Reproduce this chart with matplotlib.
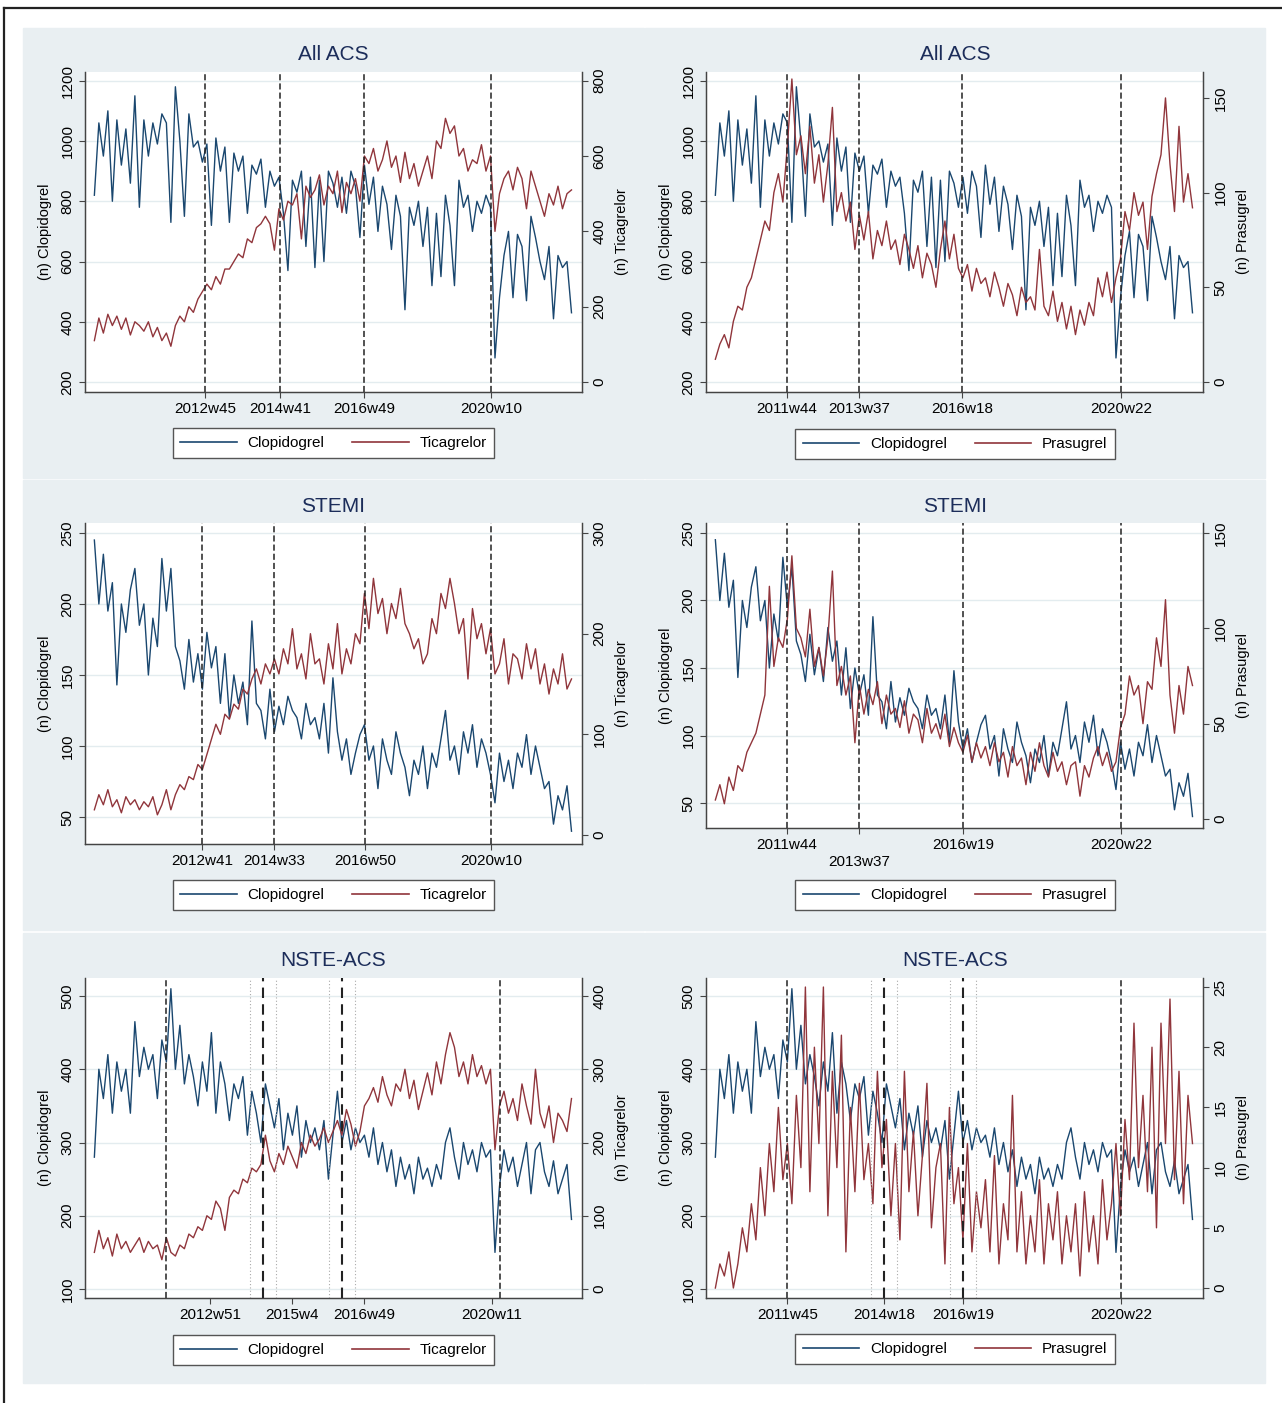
import numpy as np
import matplotlib
matplotlib.use('Agg')
import matplotlib.pyplot as plt
from matplotlib.patches import Rectangle
from matplotlib.lines import Line2D

plt.rcParams['font.family'] = ['Liberation Sans', 'DejaVu Sans']

# weekly counts, sampled every 6 weeks from 2010w1
weeks = np.arange(107) * 6

acs_clop = [820, 1060, 950, 1100, 800, 1070, 920, 1040, 860, 1150,
            780, 1070, 950, 1060, 990, 1090, 1060, 730, 1180, 1000,
            750, 1090, 980, 1000, 930, 990, 720, 1010, 900, 980,
            730, 960, 900, 950, 760, 920, 890, 940, 780, 900,
            850, 880, 760, 570, 870, 830, 900, 650, 880, 580,
            870, 600, 900, 860, 780, 880, 760, 900, 850, 680,
            920, 790, 880, 700, 850, 790, 640, 820, 750, 440,
            780, 720, 800, 650, 780, 520, 760, 550, 820, 720,
            520, 870, 780, 820, 700, 800, 760, 820, 780, 280,
            480, 620, 700, 480, 690, 650, 470, 750, 680, 600,
            540, 650, 410, 620, 580, 600, 430]
acs_tica = [110, 170, 130, 180, 150, 175, 140, 170, 125, 160,
            150, 135, 160, 120, 145, 110, 130, 95, 150, 175,
            160, 200, 185, 220, 240, 260, 245, 280, 260, 300,
            300, 320, 340, 330, 380, 370, 410, 420, 440, 420,
            350, 460, 430, 480, 470, 500, 380, 520, 490, 510,
            550, 470, 520, 500, 560, 450, 530, 500, 540, 480,
            600, 580, 620, 560, 590, 640, 570, 600, 530, 610,
            540, 580, 520, 560, 600, 540, 640, 620, 700, 660,
            680, 600, 620, 560, 590, 580, 630, 560, 600, 400,
            500, 540, 560, 510, 570, 540, 460, 560, 520, 480,
            440, 500, 470, 520, 460, 500, 510]
acs_pras = [12, 20, 25, 18, 32, 40, 38, 50, 55, 65,
            75, 85, 80, 100, 110, 95, 125, 160, 120, 130,
            110, 135, 105, 120, 95, 115, 145, 90, 100, 85,
            95, 70, 88, 75, 90, 65, 80, 72, 85, 70,
            75, 62, 78, 70, 60, 72, 55, 68, 62, 50,
            70, 85, 65, 78, 60, 55, 62, 48, 60, 52,
            55, 45, 58, 50, 40, 52, 46, 35, 50, 42,
            45, 38, 70, 40, 35, 48, 32, 42, 28, 40,
            25, 38, 30, 42, 35, 55, 45, 58, 42, 55,
            65, 90, 80, 100, 88, 95, 70, 98, 110, 120,
            150, 115, 90, 135, 95, 110, 92]

stemi_clop = [245, 200, 235, 195, 215, 143, 200, 180, 210, 225,
              185, 200, 150, 190, 170, 232, 195, 225, 170, 160,
              140, 175, 145, 165, 140, 180, 155, 170, 130, 165,
              120, 150, 130, 145, 115, 188, 130, 125, 105, 140,
              110, 128, 115, 135, 125, 120, 105, 130, 115, 120,
              105, 130, 95, 148, 110, 90, 105, 80, 95, 108,
              115, 90, 100, 70, 105, 90, 80, 110, 95, 85,
              65, 90, 80, 100, 70, 95, 85, 105, 125, 90,
              100, 80, 110, 95, 115, 85, 105, 95, 80, 60,
              95, 75, 90, 70, 95, 85, 108, 80, 100, 85,
              70, 75, 45, 65, 55, 72, 40]
stemi_tica = [25, 40, 30, 45, 28, 35, 22, 38, 30, 35,
              25, 33, 28, 38, 20, 30, 45, 25, 40, 50,
              45, 58, 55, 70, 65, 80, 95, 110, 100, 120,
              115, 130, 125, 145, 140, 155, 165, 150, 170, 160,
              175, 160, 185, 170, 205, 165, 180, 155, 200, 170,
              175, 150, 190, 165, 210, 160, 185, 170, 200, 190,
              240, 205, 255, 220, 235, 200, 230, 215, 245, 210,
              200, 185, 195, 170, 180, 215, 200, 240, 225, 255,
              230, 200, 215, 155, 225, 195, 210, 180, 205, 160,
              170, 195, 150, 180, 175, 155, 190, 165, 185, 150,
              170, 140, 165, 150, 180, 145, 155]
stemi_pras = [10, 18, 8, 22, 15, 28, 25, 35, 40, 45,
              55, 65, 122, 80, 95, 90, 105, 138, 100, 95,
              85, 110, 80, 90, 75, 95, 130, 70, 80, 65,
              75, 40, 70, 55, 68, 60, 72, 50, 65, 55,
              58, 48, 62, 45, 55, 52, 40, 58, 45, 50,
              42, 55, 38, 48, 40, 35, 44, 30, 40, 32,
              38, 28, 40, 30, 35, 22, 38, 28, 32, 18,
              35, 25, 40, 28, 22, 35, 25, 30, 18, 28,
              30, 12, 28, 22, 32, 38, 28, 35, 25, 30,
              48, 55, 75, 65, 70, 50, 72, 68, 95, 80,
              115, 65, 45, 70, 55, 80, 70]

nste_clop = [280, 400, 360, 420, 340, 410, 370, 400, 340, 465,
             390, 430, 400, 420, 360, 440, 410, 510, 400, 460,
             380, 420, 390, 350, 410, 370, 450, 340, 410, 380,
             330, 380, 360, 390, 310, 370, 340, 300, 380, 350,
             320, 360, 290, 340, 310, 350, 280, 330, 300, 320,
             290, 330, 250, 310, 370, 300, 330, 290, 320, 300,
             310, 280, 320, 270, 300, 260, 290, 240, 280, 250,
             270, 230, 280, 250, 265, 240, 270, 250, 300, 320,
             280, 250, 300, 270, 290, 260, 300, 280, 290, 150,
             240, 290, 260, 280, 240, 270, 300, 230, 290, 300,
             260, 240, 275, 230, 250, 270, 195]
nste_tica = [50, 80, 55, 70, 45, 75, 55, 65, 50, 60,
             70, 50, 65, 55, 60, 40, 70, 50, 45, 60,
             55, 75, 70, 85, 80, 100, 95, 120, 110, 80,
             125, 135, 130, 150, 145, 165, 160, 170, 210, 175,
             160, 185, 170, 195, 180, 165, 200, 185, 210, 195,
             205, 220, 200, 215, 230, 210, 245, 225, 195, 215,
             250, 260, 275, 255, 290, 265, 250, 280, 270, 300,
             260, 285, 245, 270, 295, 265, 310, 280, 320, 350,
             330, 290, 310, 280, 320, 290, 305, 280, 300, 190,
             250, 270, 240, 260, 230, 280, 250, 225, 300, 240,
             220, 250, 200, 240, 230, 215, 260]
nste_pras = [0, 2, 1, 3, 0, 2, 5, 3, 7, 4,
             10, 6, 12, 8, 15, 9, 12, 7, 16, 10,
             25, 8, 20, 12, 25, 6, 18, 10, 21, 3,
             15, 8, 17, 9, 12, 7, 18, 10, 14, 6,
             12, 4, 18, 8, 13, 6, 11, 17, 5, 10,
             12, 2, 15, 7, 10, 4, 12, 3, 8, 5,
             9, 3, 11, 2, 7, 4, 16, 3, 8, 2,
             6, 3, 9, 2, 7, 4, 8, 2, 6, 3,
             7, 1, 8, 3, 6, 2, 9, 4, 7, 12,
             6, 14, 9, 22, 10, 16, 8, 20, 5, 22,
             12, 24, 9, 18, 7, 16, 12]

titles = ['All ACS', 'All ACS', 'STEMI', 'STEMI', 'NSTE-ACS', 'NSTE-ACS']
clop_series = [acs_clop, acs_clop, stemi_clop, stemi_clop, nste_clop, nste_clop]
other_series = [acs_tica, acs_pras, stemi_tica, stemi_pras, nste_tica, nste_pras]
other_names = ['Ticagrelor', 'Prasugrel'] * 3
tick_weeks = [['2012w45', '2014w41', '2016w49', '2020w10'],
              ['2011w44', '2013w37', '2016w18', '2020w22'],
              ['2012w41', '2014w33', '2016w50', '2020w10'],
              ['2011w44', '2013w37', '2016w19', '2020w22'],
              ['2012w51', '2015w4', '2016w49', '2020w11'],
              ['2011w45', '2014w18', '2016w19', '2020w22']]
break_weeks = [tick_weeks[0], tick_weeks[1], tick_weeks[2], tick_weeks[3],
               ['2011w45', '2014w18', '2016w19', '2020w22'],
               ['2011w45', '2014w18', '2016w19', '2020w22']]
dotted_weeks = ['2014w1', '2014w35', '2016w2', '2016w36']
left_ticks = [np.arange(200, 1201, 200)] * 2 + [np.arange(50, 251, 50)] * 2 + [np.arange(100, 501, 100)] * 2
right_ticks = [np.arange(0, 801, 200), np.arange(0, 151, 50), np.arange(0, 301, 100),
               np.arange(0, 151, 50), np.arange(0, 401, 100), np.arange(0, 26, 5)]
left_lims = [(167, 1229), (167, 1229), (31, 257), (31.5, 257.4), (87.7, 524.6), (87.7, 524.6)]
right_lims = [(-26.4, 823), (-5.3, 163.7), (-9, 310), (-4.7, 155.2), (-12.3, 424.6), (-0.83, 25.75)]

W, H = 1282, 1403
fig = plt.figure(figsize=(W / 100, H / 100), dpi=100)

NAVY = '#1a476f'
MAROON = '#90353b'
BG = '#e9eff2'


def wk(s):
    y, w = s.split('w')
    return int(y) + (int(w) - 1) / 52


t = 2010 + weeks / 52

# panel boxes (px): left, top, right, bottom
panels = [(23, 28, 644, 478), (645, 28, 1265, 478),
          (23, 480, 644, 930), (645, 480, 1265, 930),
          (23, 933, 644, 1383), (645, 933, 1265, 1383)]
axes_px = [(85, 72, 582, 392), (706, 72, 1203, 392),
           (85, 523, 582, 844), (706, 523, 1203, 828),
           (85, 978, 582, 1298), (706, 978, 1203, 1298)]

fig.add_artist(Line2D([4 / W, 4 / W], [0, 1 - 8 / H], color='#222', lw=1.6))
fig.add_artist(Line2D([4 / W, 1], [1 - 8 / H, 1 - 8 / H], color='#222', lw=1.6))

for i in range(6):
    pl, pt, pr, pb = panels[i]
    fig.patches.append(Rectangle((pl / W, 1 - pb / H), (pr - pl) / W, (pb - pt) / H,
                                 transform=fig.transFigure, color=BG, zorder=-10))
    l, tp, r, b = axes_px[i]
    ax = fig.add_axes([l / W, 1 - b / H, (r - l) / W, (b - tp) / H])
    ax.set_zorder(1)
    ax2 = ax.twinx()
    ax2.set_zorder(2)
    ax2.patch.set_visible(False)

    ax.plot(t, clop_series[i], color=NAVY, lw=1.0)
    ax2.plot(t, other_series[i], color=MAROON, lw=1.0)

    ax.set_xlim(2009.76, 2022.5)
    ax.set_ylim(*left_lims[i])
    ax2.set_ylim(*right_lims[i])
    ax.set_yticks(left_ticks[i])
    ax2.set_yticks(right_ticks[i])
    ax.yaxis.grid(True, color='#e3ecef', lw=1.0)
    ax.set_axisbelow(True)

    labels = list(tick_weeks[i])
    if i == 3:
        labels[1] = '\n' + labels[1]
    ax.set_xticks([wk(s) for s in tick_weeks[i]])
    ax.set_xticklabels(labels, fontsize=11)

    for s in break_weeks[i]:
        if i >= 4 and s in ('2014w18', '2016w19'):
            ax2.axvline(wk(s), color='#222', lw=1.5, ls=(0, (5, 3)))
        else:
            ax2.axvline(wk(s), color='#222', lw=1.1, ls=(0, (4, 2)))
    if i >= 4:
        for s in dotted_weeks:
            ax2.axvline(wk(s), color='#aaa', lw=0.8, ls=(0, (1, 2)))

    for a in (ax, ax2):
        a.spines['top'].set_visible(False)
        for sp in a.spines.values():
            sp.set_color('#444')
            sp.set_linewidth(0.9)
        a.tick_params(direction='out', length=4, width=0.8, color='#444', labelsize=11)
    for lab in ax.get_yticklabels() + ax2.get_yticklabels():
        lab.set_rotation(90)
        lab.set_va('center')

    ax.set_ylabel('(n) Clopidogrel', fontsize=10.5, labelpad=6)
    ax2.set_ylabel('(n) ' + other_names[i], fontsize=10.5, labelpad=6)

    cx = (pl + pr) / 2
    fig.text(cx / W, 1 - (pt + 27) / H, titles[i], ha='center', va='center',
             fontsize=15, color='#1c2d5a')

    handles = [Line2D([], [], color=NAVY, lw=1.2), Line2D([], [], color=MAROON, lw=1.2)]
    leg_y = {0: 443, 1: 444, 2: 895, 3: 895, 4: 1350, 5: 1349}[i]
    leg = fig.legend(handles, ['Clopidogrel', other_names[i]], loc='center',
                     bbox_to_anchor=(cx / W, 1 - leg_y / H), ncol=2, fontsize=11,
                     frameon=True, fancybox=False, edgecolor='#555', framealpha=1,
                     facecolor='white', handlelength=3.7, columnspacing=1.8,
                     borderpad=0.5, handletextpad=0.7)
    leg.get_frame().set_linewidth(1.0)

fig.savefig('out.png', dpi=100, facecolor='white')
